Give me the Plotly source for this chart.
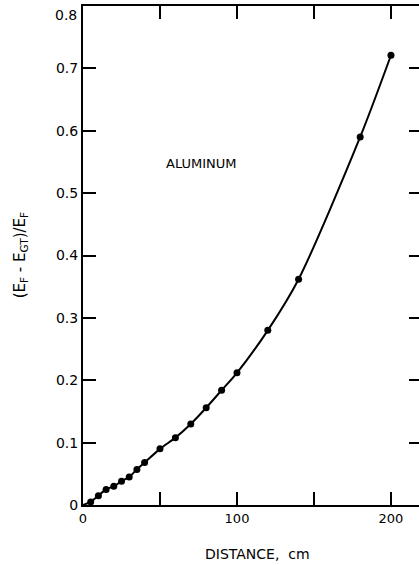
import plotly.graph_objects as go

# Data
distance_cm = [5, 10, 15, 20, 25, 30, 35, 40, 50, 60, 70, 80, 90, 100, 120, 140, 180, 200]
rel_diff = [0.005, 0.015, 0.025, 0.030, 0.038, 0.045, 0.057, 0.068, 0.090, 0.108,
            0.130, 0.156, 0.184, 0.212, 0.280, 0.362, 0.590, 0.721]
curve_x = [0] + distance_cm
curve_y = [0] + rel_diff

x_tickvals = [0, 50, 100, 150, 200]
x_ticktext = ["0", "", "100", "", "200"]
y_tickvals = [0, 0.1, 0.2, 0.3, 0.4, 0.5, 0.6, 0.7, 0.8]
y_ticktext = ["0", "0.1", "0.2", "0.3", "0.4", "0.5", "0.6", "0.7", "0.8"]

FONT = "DejaVu Sans"

fig = go.Figure()
fig.add_trace(go.Scatter(x=curve_x, y=curve_y, mode="lines",
                         line=dict(color="black", width=2, shape="spline", smoothing=0.8),
                         hoverinfo="skip", showlegend=False))
fig.add_trace(go.Scatter(x=distance_cm, y=rel_diff, mode="markers",
                         marker=dict(color="black", size=7),
                         showlegend=False))
# right-side tick marks (no line)
fig.add_trace(go.Scatter(x=[None], y=[None], yaxis="y2", showlegend=False))

# the top tick label sits just below the frame's top edge in the reference
top_label = dict(text=y_ticktext[-1], x=0, y=y_tickvals[-1], xref="paper", yref="y",
                 xanchor="right", yanchor="middle", xshift=-4, yshift=-9,
                 showarrow=False, font=dict(size=14))

fig.update_layout(
    width=419, height=565,
    margin=dict(l=83, r=0, t=6, b=60),
    paper_bgcolor="white", plot_bgcolor="white",
    font=dict(family=FONT, size=14, color="black"),
    xaxis=dict(range=[0, 218.2], tickvals=x_tickvals, ticktext=x_ticktext,
               ticks="inside", ticklen=13, tickwidth=2, tickcolor="black",
               showline=True, linewidth=2, linecolor="black", mirror="ticks",
               showgrid=False, zeroline=False, tickfont=dict(size=13),
               automargin=False),
    yaxis=dict(range=[0, 0.8], tickvals=y_tickvals, ticktext=y_ticktext[:-1] + [""],
               ticks="inside", ticklen=13, tickwidth=2, tickcolor="black",
               showline=True, linewidth=2, linecolor="black",
               showgrid=False, zeroline=False, tickfont=dict(size=14),
               automargin=False),
    yaxis2=dict(range=[0, 0.8], overlaying="y", side="right", tickvals=y_tickvals,
                ticks="inside", ticklen=10, tickwidth=2, tickcolor="black",
                showticklabels=False, showline=False, showgrid=False, zeroline=False,
                automargin=False),
    annotations=[
        top_label,
        dict(text="ALUMINUM", x=77, y=0.547, xref="x", yref="y", showarrow=False,
             font=dict(size=13)),
        dict(text="DISTANCE,  cm", x=0.52, y=-0.098, xref="paper", yref="paper",
             showarrow=False, font=dict(size=14), xanchor="center", yanchor="middle"),
        dict(text="(E<sub>F</sub> - E<sub>GT</sub>)/E<sub>F</sub>", x=-0.185, y=0.5,
             xref="paper", yref="paper", showarrow=False, textangle=-90,
             font=dict(size=15), xanchor="center", yanchor="middle"),
    ],
)

fig.write_html("out.html", config={"displayModeBar": False},
               post_script="document.body.style.margin='0';")
